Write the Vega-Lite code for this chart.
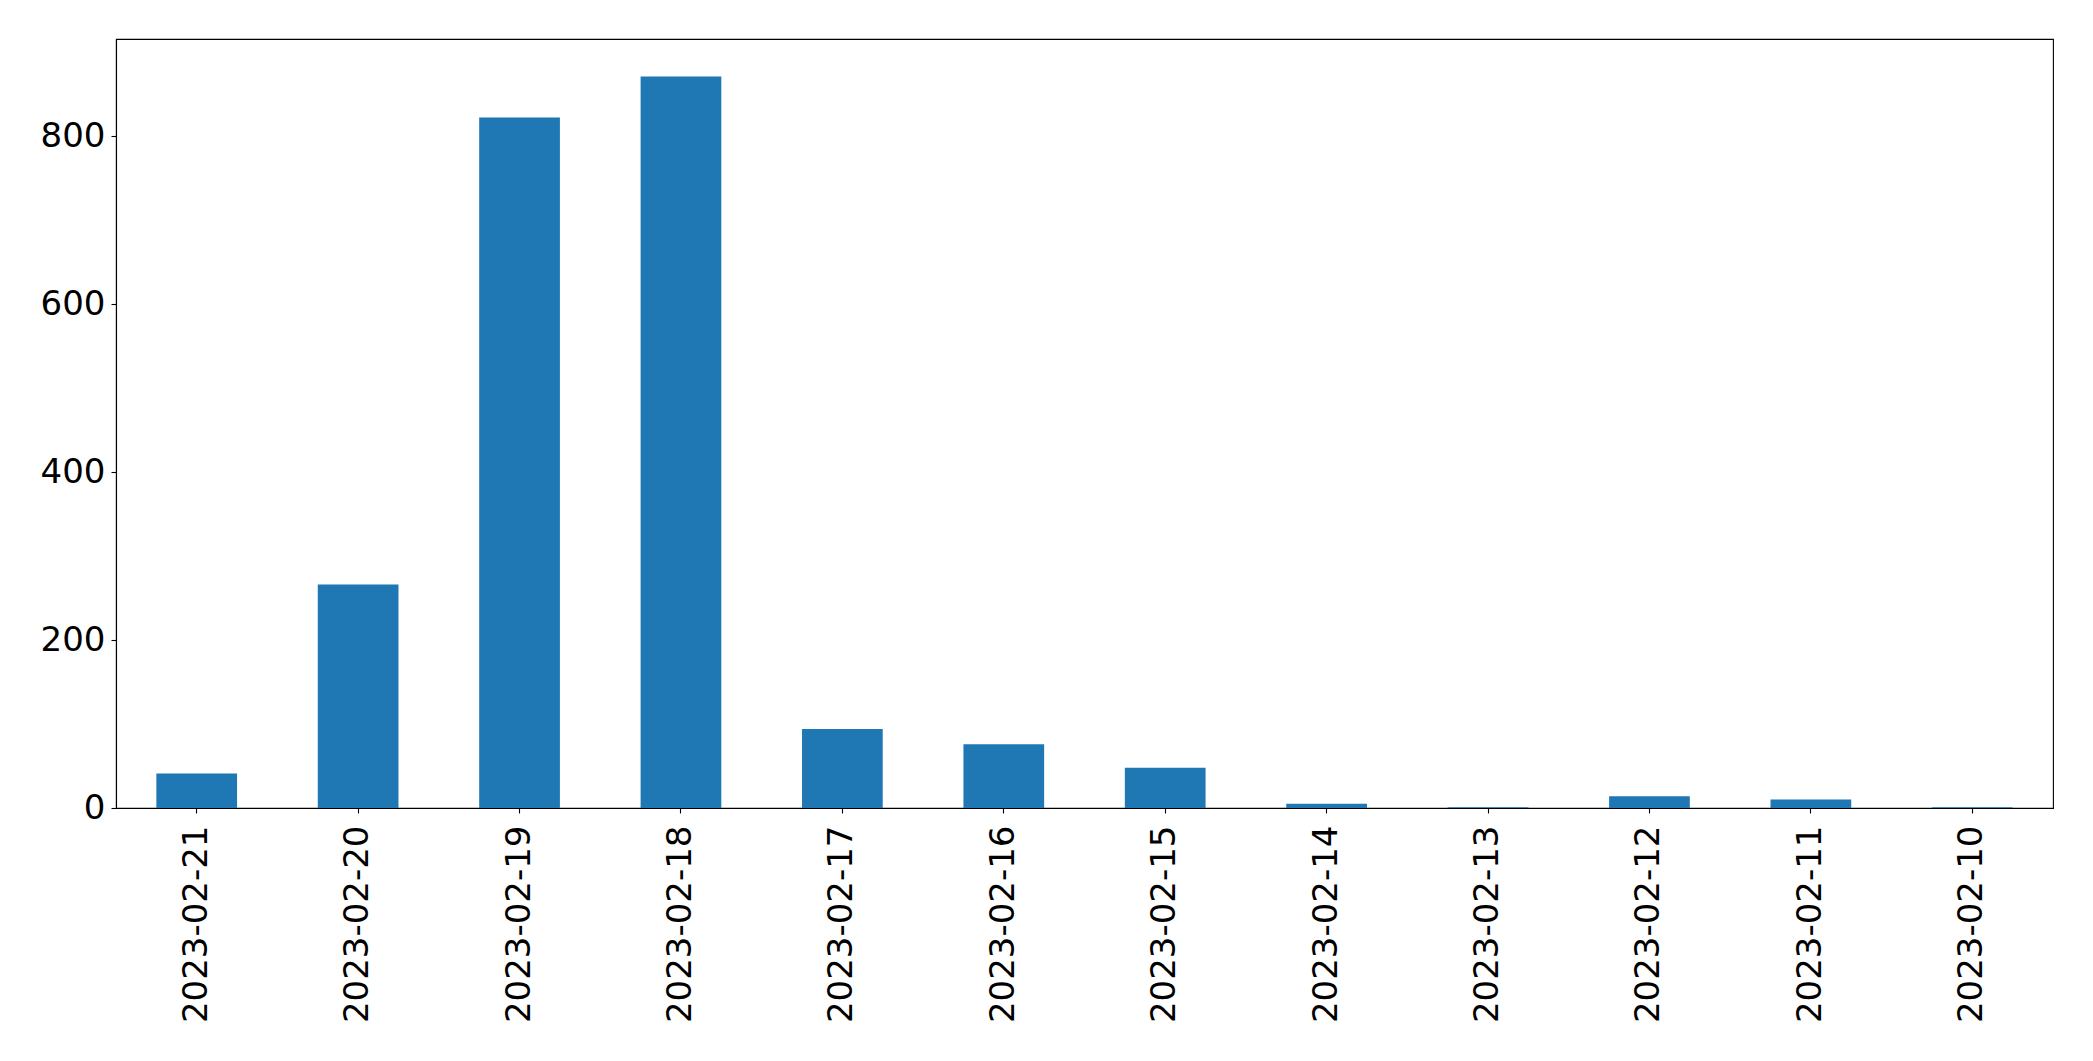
{
  "$schema": "https://vega.github.io/schema/vega-lite/v6.json",
  "width": 1937,
  "height": 769,
  "autosize": {"type": "none"},
  "padding": {"left": 116, "top": 39, "right": 40, "bottom": 253},
  "background": "white",
  "config": {
    "view": {"stroke": "black", "strokeWidth": 1.1},
    "font": "DejaVu Sans",
    "axis": {
      "labelFont": "DejaVu Sans",
      "labelFontSize": 34,
      "labelColor": "black",
      "labelLimit": 0,
      "domainColor": "black",
      "domainWidth": 1.1,
      "tickColor": "black",
      "tickWidth": 1.1,
      "tickSize": 5,
      "grid": false,
      "title": null
    }
  },
  "data": {
    "values": [
      {"date": "2023-02-21", "count": 41},
      {"date": "2023-02-20", "count": 266},
      {"date": "2023-02-19", "count": 822},
      {"date": "2023-02-18", "count": 871},
      {"date": "2023-02-17", "count": 94},
      {"date": "2023-02-16", "count": 76},
      {"date": "2023-02-15", "count": 48},
      {"date": "2023-02-14", "count": 5},
      {"date": "2023-02-13", "count": 1},
      {"date": "2023-02-12", "count": 14},
      {"date": "2023-02-11", "count": 10},
      {"date": "2023-02-10", "count": 1}
    ]
  },
  "mark": {"type": "bar", "color": "#1f77b4"},
  "encoding": {
    "x": {
      "field": "date",
      "type": "nominal",
      "sort": null,
      "scale": {"paddingInner": 0.5, "paddingOuter": 0.25},
      "axis": {"labelAngle": -90, "labelPadding": 12, "labelAlign": "right", "labelBaseline": "middle", "labelLimit": 0}
    },
    "y": {
      "field": "count",
      "type": "quantitative",
      "scale": {"domain": [0, 915.5], "nice": false},
      "axis": {"values": [0, 200, 400, 600, 800], "labelPadding": 6}
    }
  }
}
